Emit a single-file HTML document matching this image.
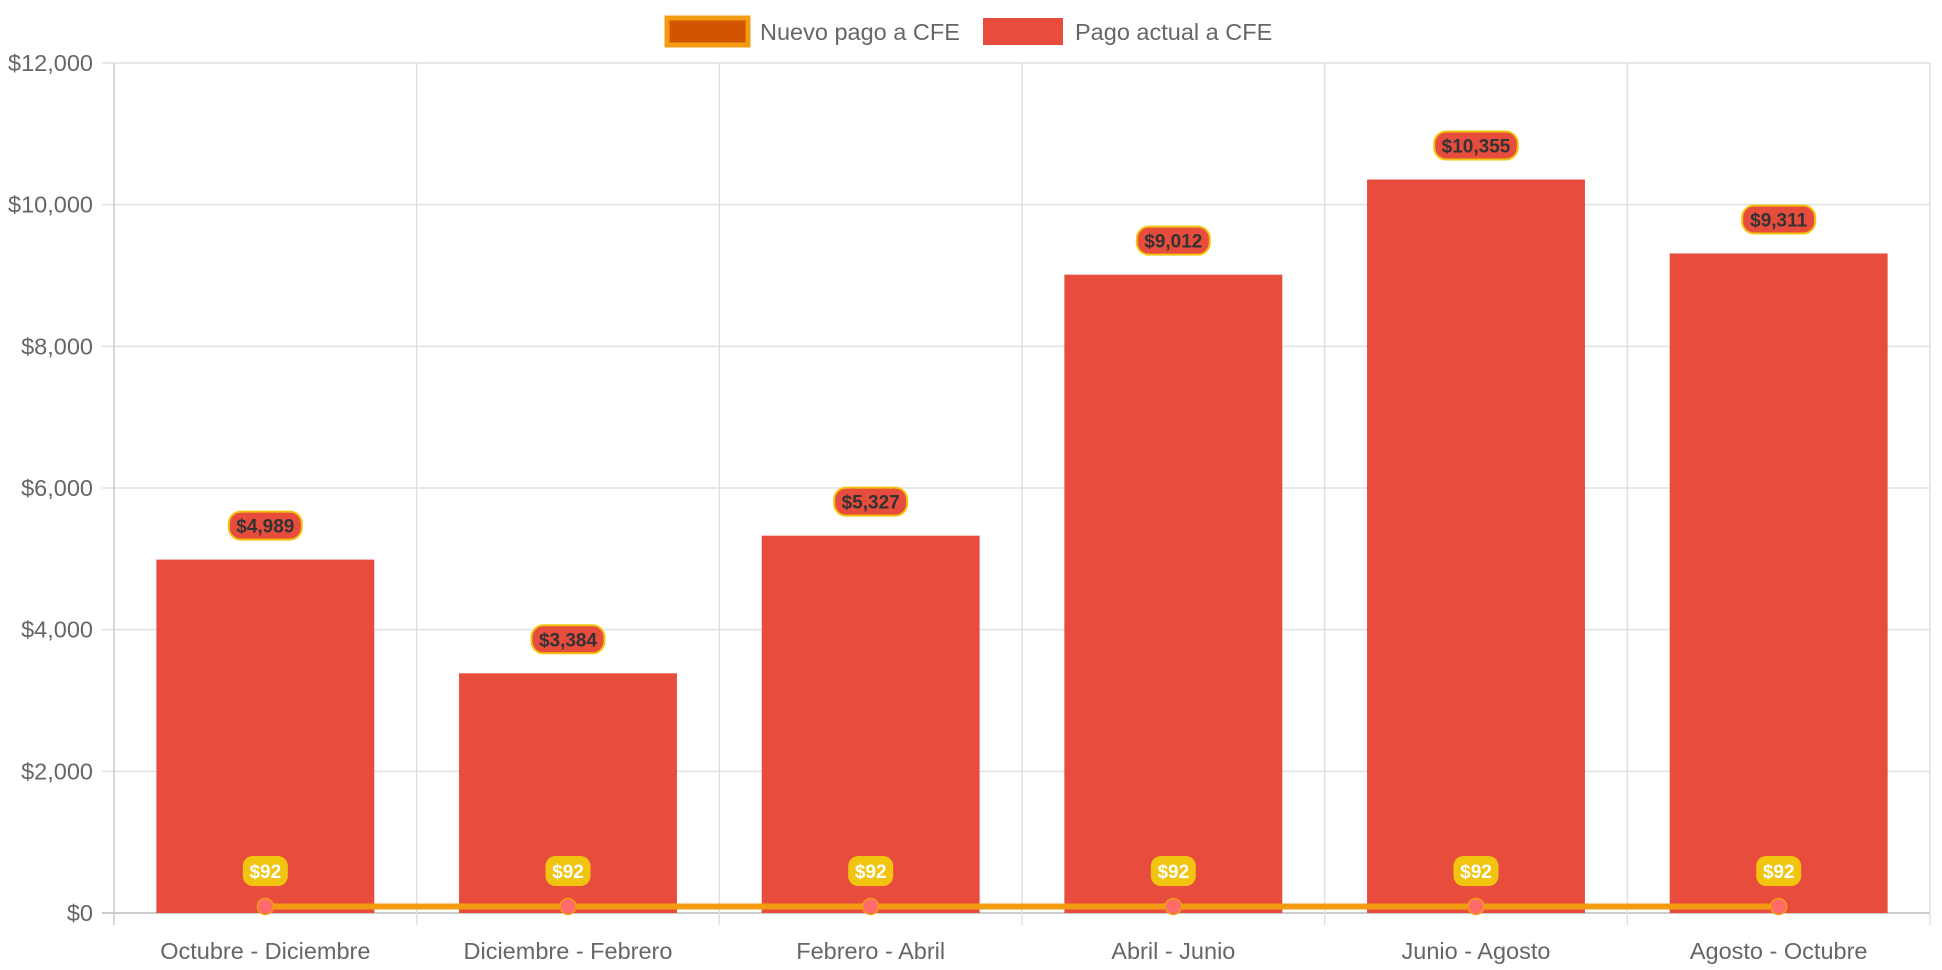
<!DOCTYPE html>
<html><head><meta charset="utf-8"><style>
html,body{margin:0;padding:0;background:#fff;}
svg{display:block;font-family:"Liberation Sans",sans-serif;}
</style></head><body>
<svg id="chart" width="1942" height="970">
<g id="legend">
<g>
<rect x="667" y="18" width="81" height="27" fill="#d35400" stroke="#f39c12" stroke-width="5"/>
<text x="760" y="40" font-size="23.5" fill="#666">Nuevo pago a CFE</text></g>
<g>
<rect x="983" y="18" width="80" height="27" fill="#e74c3c"/>
<text x="1075" y="40" font-size="23.5" fill="#666">Pago actual a CFE</text></g>
</g>
<g id="grid"></g>
<g id="bars"></g>
<g id="line"></g>
<g id="labels"></g>
</svg>
<script>
const categories=["Octubre - Diciembre","Diciembre - Febrero","Febrero - Abril","Abril - Junio","Junio - Agosto","Agosto - Octubre"];
const pagoActual=[4989,3384,5327,9012,10355,9311];
const nuevoPago=[92,92,92,92,92,92];
const yTicks=[0,2000,4000,6000,8000,10000,12000];
const L=114,R=1930,T=63,B=913,yMax=12000;
const NS="http://www.w3.org/2000/svg";
const bw=(R-L)/categories.length;
function y(v){return B-v/yMax*(B-T);}
function xc(i){return L+bw*(i+0.5);}
function fmt(v){return "$"+v.toLocaleString("en-US");}
function mk(tag,attrs,parent,text){const e=document.createElementNS(NS,tag);for(const k in attrs)e.setAttribute(k,attrs[k]);if(text!==undefined)e.textContent=text;parent.appendChild(e);return e;}
const grid=document.getElementById("grid");
yTicks.forEach(t=>{
  const ln=mk("line",{x1:L-12,x2:R,y1:y(t),y2:y(t),stroke:t===0?"#ccc":"#e0e0e0","stroke-width":t===0?2:1.5},grid);
  
  
  const tx=mk("text",{x:L-21,y:y(t)+8,"text-anchor":"end","font-size":23.5,fill:"#666"},grid,fmt(t));
  
  
});
for(let i=0;i<=categories.length;i++){
  const x=L+bw*i;
  const ln=mk("line",{x1:x,x2:x,y1:T,y2:B+12,stroke:i===0?"#ccc":"#e0e0e0","stroke-width":1.5},grid);
  
  
}
categories.forEach((c,i)=>{
  const tx=mk("text",{x:xc(i),y:959,"text-anchor":"middle","font-size":23.5,fill:"#666"},grid,c);
  
  
});
const bars=document.getElementById("bars"),labels=document.getElementById("labels"),line=document.getElementById("line");
const barW=bw*0.72;
pagoActual.forEach((v,i)=>{
  const r=mk("rect",{x:xc(i)-barW/2,y:y(v),width:barW,height:B-y(v),fill:"#e74c3c"},bars);
  
  
  const s=fmt(v),w=s.length*10.5+10,cy=y(v)-34;
  const g=mk("g",{},labels);
  
  
  mk("rect",{x:xc(i)-w/2,y:cy-14,width:w,height:28,rx:12,fill:"#e74c3c",stroke:"#f1c40f","stroke-width":2},g);
  mk("text",{x:xc(i),y:cy+7,"text-anchor":"middle","font-size":19,"font-weight":"bold",fill:"#333"},g,s);
});
let pts=nuevoPago.map((v,i)=>xc(i)+","+y(v)).join(" ");
const pl=mk("polyline",{points:pts,fill:"none",stroke:"#f39c12","stroke-width":6},line);


nuevoPago.forEach((v,i)=>{
  const c=mk("circle",{cx:xc(i),cy:y(v),r:8,fill:"#ff6b6b",stroke:"#f39c12","stroke-width":1.5},line);
  
  
  const s=fmt(v),w=s.length*11+12,cy=871;
  const g=mk("g",{},labels);
  
  
  mk("rect",{x:xc(i)-w/2,y:cy-15,width:w,height:30,rx:10,fill:"#f1c40f"},g);
  mk("text",{x:xc(i),y:cy+7,"text-anchor":"middle","font-size":19,"font-weight":"bold",fill:"#fff"},g,s);
});
</script>
</body></html>
